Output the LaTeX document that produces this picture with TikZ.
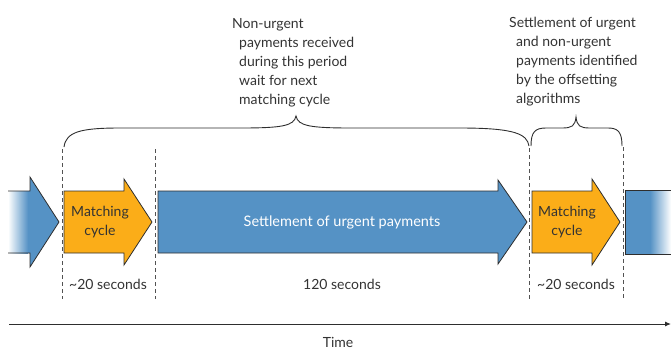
\documentclass[tikz,border=0pt]{standalone}
\usepackage{fontspec}
\setmainfont{Lato}
\usepackage{tikz}
\usetikzlibrary{arrows.meta,positioning,calc}
\definecolor{payblue}{HTML}{5592C5}
\definecolor{cycorange}{HTML}{FBAD18}
\definecolor{edge}{HTML}{2E2E2E}
\definecolor{ink}{HTML}{333333}
\newcommand\ind{\hspace*{7pt}}

\begin{document}
\begin{tikzpicture}[x=1pt,y=-1pt,font=\fontsize{14}{19}\selectfont,
  block/.style={draw=edge,line width=0.8pt,line join=miter},
  cutline/.style={draw=ink!85,line width=1pt,dash pattern=on 4pt off 3pt},
  brace/.style={draw=edge,line width=0.9pt},
  note/.style={text=ink,anchor=base west,align=left,inner sep=0pt}]
\useasboundingbox (0,0) rectangle (671,349);
% incoming settlement (fades in from the left)
\fill[payblue] (8,191) -- (30,191) -- (30,177) -- (59,222) -- (30,267) -- (30,253) -- (8,253) -- cycle;
\shade[left color=white,right color=payblue] (8,191) rectangle (28,253);
\draw[block] (8,191) -- (30,191) -- (30,177) -- (59,222) -- (30,267) -- (30,253) -- (8,253);
% matching cycles
\foreach \xa/\xb/\xc in {64/124/152,532/592/620}
  \draw[block,fill=cycorange] (\xa,191) -- (\xb,191) -- (\xb,179) -- (\xc,222) -- (\xb,265) -- (\xb,253) -- (\xa,253) -- cycle;
% settlement of urgent payments
\draw[block,fill=payblue] (158,191) -- (498,191) -- (498,180) -- (527,222) -- (498,264) -- (498,253) -- (158,253) -- cycle;
% next settlement (fades out to the right)
\fill[payblue] (625,190) rectangle (671,254);
\shade[left color=payblue,right color=white] (650,190) rectangle (671,254);
\draw[block] (671,190) -- (625,190) -- (625,254) -- (671,254);
% period boundaries
\foreach \x/\ytop in {62/149,155/149,529/148,623/147}
  \draw[cutline] (\x,\ytop) -- (\x,299);
% braces
\draw[brace] (64,147) .. controls (66,132) and (80,128) .. (120,128) -- (240,128)
  .. controls (282,128) and (294,126) .. (296,116)
  .. controls (298,126) and (310,128) .. (352,128) -- (460,128)
  .. controls (515,128) and (527,134) .. (529,146);
\draw[brace] (531,146) .. controls (531,132) and (535,128) .. (546,128) -- (562,128)
  .. controls (572,128) and (575,126) .. (576,117)
  .. controls (577,126) and (580,128) .. (590,128) -- (608,128)
  .. controls (618,128) and (622,132) .. (622,146);
% labels (anchored on the baseline of the last line)
\node[note] (waitnote) at (232,104) {Non-urgent\\\ind payments received\\\ind during this period\\\ind wait for next\\\ind matching cycle};
\node[note] (offsetnote) at (509,103) {Settlement of urgent\\\ind and non-urgent\\\ind payments identified\\\ind by the offsetting\\\ind algorithms};
\node[text=ink,align=center] (cycA) at (100,222) {Matching\\cycle};
\node[text=ink,align=center] (cycB) at (567,222) {Matching\\cycle};
\node[text=white,font=\fontsize{14.5}{19}\selectfont] (settle) at (342,222) {Settlement of urgent payments};
\node[text=ink] (durA) at (108,284) {\textasciitilde20 seconds};
\node[text=ink] (durB) at (342,284) {120 seconds};
\node[text=ink] (durC) at (576,284) {\textasciitilde20 seconds};
% time axis
\coordinate (t0) at (9,324);
\coordinate (t1) at (671,324);
\draw[edge,line width=1pt,-{Latex[length=6pt,width=5pt]}] (t0) -- (t1);
\node[text=ink] (timelab) at (338,342) {Time};
\end{tikzpicture}
\end{document}
